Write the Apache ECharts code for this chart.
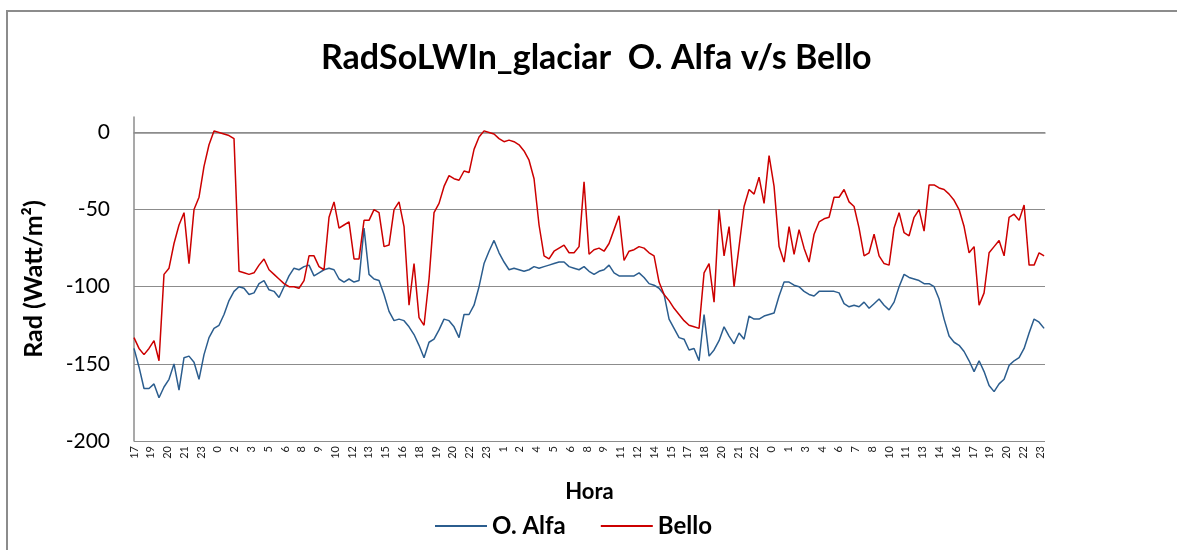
<!DOCTYPE html>
<html>
<head>
<meta charset="utf-8">
<title>RadSoLWIn_glaciar O. Alfa v/s Bello</title>
<script src="https://cdn.jsdelivr.net/npm/echarts@6/dist/echarts.min.js"></script>
<style>
html, body {
  margin: 0;
  padding: 0;
  background: #fff;
}
#myChart {
  width: 1177px;
  height: 550px;
}
/* marco gris del gráfico (como en Excel) */
#frame {
  position: absolute;
  left: 6px;
  top: 10px;
  width: 1200px;
  height: 600px;
  border: 2px solid #8c8c8c;
  pointer-events: none;
}
</style>
</head>
<body>
<div id="frame"></div>
<div id="myChart"></div>
<script>
// etiquetas de hora del eje X (una cada ~1.44 h)
const hourLabels = ['17', '19', '20', '21', '23', '0', '2', '3', '5', '6', '8', '9', '10', '12', '13', '15', '16', '18', '19', '20', '22', '23',
  '1', '2', '4', '5', '6', '8', '9', '11', '12', '14', '15', '17', '18', '20', '21', '22',
  '0', '1', '3', '4', '6', '7', '8', '10', '11', '13', '14', '16', '17', '19', '20', '22', '23']

// Rad (Watt/m2), muestras equiespaciadas
const alfa = [
  -140, -152, -166, -166, -163, -172, -165, -160, -150, -167, -146, -145, -149, -160, -144, -133, -127, -125, -118, -109,
  -103, -100, -101, -105, -104, -98, -96, -102, -103, -107, -100,
  -93, -88, -89, -87, -86, -93, -91, -89, -88, -89, -95, -97, -95, -97, -96, -62, -92, -95, -96, -105,
  -116, -122, -121, -122, -126, -131, -138, -146, -136, -134, -128,
  -121, -122, -126, -133, -118, -118, -112, -100, -85, -77, -70, -78, -84, -89, -88, -89, -90, -89, -87, -88,
  -87, -86, -85, -84, -84, -87, -88, -89, -87, -90,
  -92, -90, -89, -86, -91, -93, -93, -93, -93, -91, -94, -98, -99, -101, -105, -121, -127, -133, -134, -141,
  -140, -148, -118, -145, -141, -135, -126, -132, -137, -130, -134, -119,
  -121, -121, -119, -118, -117, -106, -97, -97, -99, -100, -103, -105, -106, -103, -103, -103, -103, -104, -111, -113,
  -112, -113, -110, -114, -111, -108, -112, -115, -110,
  -100, -92, -94, -95, -96, -98, -98, -100, -108, -121, -132, -136, -138, -142, -148, -155, -148, -155, -164, -168,
  -163, -160, -151, -148, -146, -140, -130, -121, -123, -127
]
const bello = [
  -133, -140, -144, -140, -135, -148, -92, -88, -72, -60, -52, -85, -50, -42, -22, -8, 1, 0, -1, -2,
  -4, -90, -91, -92, -91, -86, -82, -89, -92, -95, -98,
  -100, -100, -101, -96, -80, -80, -87, -89, -55, -45, -62, -60, -58, -82, -82, -57, -57, -50, -52, -74,
  -73, -50, -45, -61, -112, -85, -120, -125, -95, -52, -46,
  -35, -28, -30, -31, -25, -26, -11, -3, 1, 0, -1, -4, -6, -5, -6, -8, -12, -18, -30, -60,
  -80, -82, -77, -75, -73, -78, -78, -74, -32, -79,
  -76, -75, -77, -72, -63, -54, -83, -77, -76, -74, -75, -78, -80, -97, -105, -109, -114, -118, -122, -125,
  -126, -127, -91, -85, -110, -50, -80, -61, -100, -74, -48, -37,
  -40, -29, -46, -15, -35, -74, -84, -61, -79, -63, -75, -84, -66, -58, -56, -55, -42, -42, -37, -45,
  -48, -62, -80, -78, -66, -80, -85, -86, -62,
  -52, -65, -67, -55, -50, -64, -34, -34, -36, -37, -40, -44, -50, -61, -78, -74, -112, -104, -78, -74,
  -70, -80, -55, -53, -57, -47, -86, -86, -78, -80
]

// paso entre muestras, en unidades de etiqueta del eje X
const STEP = 0.298

function toPoints (arr) {
  return arr.map((v, i) => [i * STEP, v])
}

const font = 'Lato, "Open Sans", sans-serif'
const gridColor = '#8c8c8c'

let myChart = echarts.init(document.getElementById('myChart'))
myChart.setOption({
  animation: false,
  textStyle: { fontFamily: font },
  title: {
    text: 'RadSoLWIn_glaciar  O. Alfa v/s Bello',
    left: 316,
    top: 36,
    textStyle: { fontFamily: font, fontSize: 34, fontWeight: 'bold', color: '#000' }
  },
  legend: {
    data: ['O. Alfa', 'Bello'],
    left: 430,
    top: 509,
    icon: 'rect',
    itemWidth: 52,
    itemHeight: 2,
    itemGap: 35,
    textStyle: { fontFamily: font, fontSize: 24, fontWeight: 'bold', color: '#000' }
  },
  grid: {
    left: 134,
    right: 132,
    top: 117,
    bottom: 109
  },
  xAxis: {
    type: 'value',
    min: 0,
    max: 54.29,
    interval: 1,
    name: 'Hora',
    nameLocation: 'middle',
    nameGap: 40,
    nameTextStyle: { fontFamily: font, fontSize: 22, fontWeight: 'bold', color: '#000' },
    axisLine: { lineStyle: { color: gridColor, width: 1.5 } },
    axisTick: { show: false },
    splitLine: { show: false },
    axisLabel: {
      rotate: 90,
      margin: 5,
      fontSize: 11,
      color: '#222',
      showMaxLabel: false,
      formatter: function (v) {
        let k = Math.round(v)
        if (Math.abs(v - k) > 0.01) return ''
        return hourLabels[k] || ''
      }
    }
  },
  yAxis: {
    type: 'value',
    min: -200,
    max: 10,
    interval: 50,
    name: 'Rad (Watt/m²)',
    nameLocation: 'middle',
    nameGap: 88,
    nameTextStyle: { fontFamily: font, fontSize: 25, fontWeight: 'bold', color: '#000' },
    axisLine: { show: true, lineStyle: { color: gridColor, width: 1.5 } },
    axisTick: { show: false },
    axisLabel: {
      margin: 24,
      fontSize: 21,
      color: '#000',
      formatter: function (v) {
        return v % 50 === 0 ? String(v) : ''
      }
    },
    splitLine: {
      lineStyle: {
        // la última línea (tope del eje, 10) no se dibuja
        color: [gridColor, gridColor, gridColor, gridColor, gridColor, 'rgba(0,0,0,0)'],
        width: 1.2
      }
    }
  },
  series: [
    {
      name: 'O. Alfa',
      type: 'line',
      symbol: 'none',
      color: '#2b5d8e',
      lineStyle: { width: 1.5 },
      data: toPoints(alfa)
    },
    {
      name: 'Bello',
      type: 'line',
      symbol: 'none',
      color: '#cc0000',
      lineStyle: { width: 1.5 },
      data: toPoints(bello)
    }
  ]
})
</script>
</body>
</html>
